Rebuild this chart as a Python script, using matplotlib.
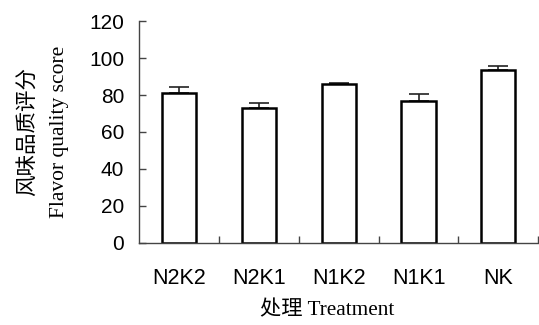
import numpy as np
import matplotlib
matplotlib.use('Agg')
import matplotlib.pyplot as plt
from matplotlib.ticker import FixedLocator

# flavor quality score per treatment, with upper error bars
treatments = ['N2K2', 'N2K1', 'N1K2', 'N1K1', 'NK']
scores = [81.2, 72.8, 85.7, 77.0, 93.3]
errors = [3.2, 3.0, 1.0, 3.4, 2.4]

fig = plt.figure(figsize=(5.39, 3.25), dpi=100)
ax = fig.add_axes([0.2585, 0.253, 0.740, 0.682])

x = np.arange(len(treatments))
ax.errorbar(x, scores, yerr=[np.zeros(len(errors)), errors], fmt='none',
            ecolor='#222222', elinewidth=1.2, capsize=7, capthick=1.2, zorder=1)
ax.bar(x, scores, width=0.43, color='white', edgecolor='black',
       linewidth=1.8, zorder=2)

ax.set_xlim(-0.5, len(treatments) - 0.5)
ax.set_ylim(0, 120)
ax.set_yticks(np.arange(0, 121, 20))
ax.set_xticks(x)
ax.set_xticklabels(treatments, fontsize=15.5, family='Liberation Sans')
ax.xaxis.set_minor_locator(FixedLocator(np.arange(0.5, len(treatments), 1.0)))
for lab in ax.get_yticklabels():
    lab.set_fontsize(15)
    lab.set_family('Liberation Sans')

ax.tick_params(axis='x', which='major', length=0, pad=18)
ax.tick_params(axis='x', which='minor', direction='in', length=5,
               width=1, color='#444444')
ax.tick_params(axis='y', direction='in', length=5, width=1,
               color='#444444', pad=11)

for side in ['top', 'right']:
    ax.spines[side].set_visible(False)
for side in ['left', 'bottom']:
    ax.spines[side].set_color('#444444')
    ax.spines[side].set_linewidth(1.0)

ax.set_ylabel('风味品质评分\nFlavor quality score', fontsize=15.5,
              family=['Liberation Serif', 'Noto Sans CJK SC'],
              linespacing=1.85, labelpad=14)
ax.set_xlabel('处理 Treatment', fontsize=15.3, x=0.47,
              family=['Liberation Serif', 'Noto Sans CJK SC'], labelpad=9)

fig.savefig('out.png', dpi=100)
